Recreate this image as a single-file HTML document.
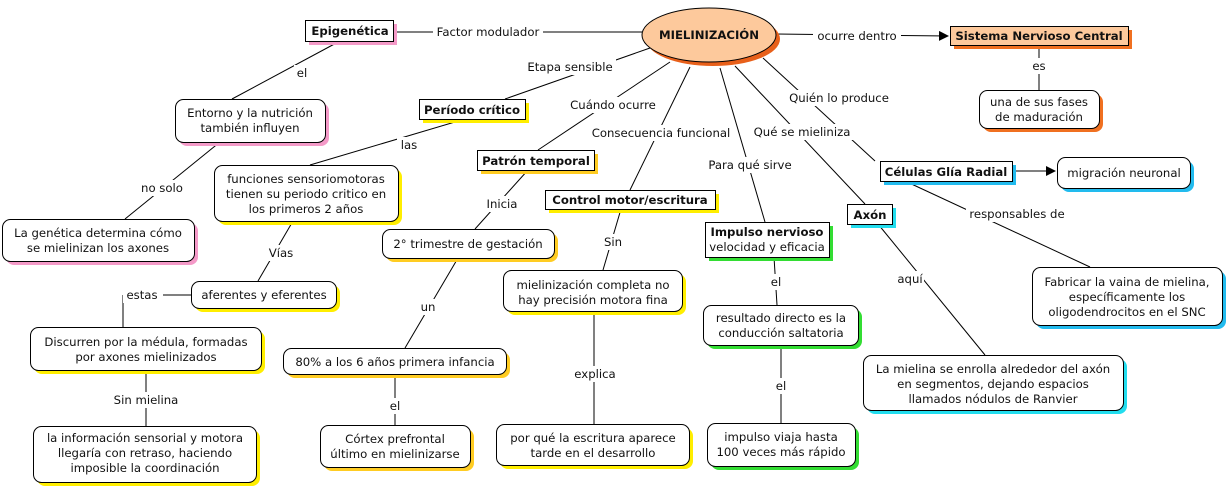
<!DOCTYPE html>
<html><head><meta charset="utf-8"><style>
html,body{margin:0;padding:0;background:#fff;width:1228px;height:489px;overflow:hidden}
svg text{font-family:"DejaVu Sans","Liberation Sans",sans-serif;font-size:11.7px;fill:#111}
.b{font-weight:bold}
</style></head><body>
<svg width="1228" height="489" viewBox="0 0 1228 489" xmlns="http://www.w3.org/2000/svg">
<defs><marker id="ar" markerWidth="10" markerHeight="10" refX="9" refY="5" orient="auto" markerUnits="userSpaceOnUse"><path d="M0,0 L10,5 L0,10 z" fill="#000"/></marker></defs>
<g stroke="#000" stroke-width="1" fill="none">
<line x1="393" y1="32" x2="642" y2="32"/>
<line x1="776" y1="34" x2="948" y2="36" marker-end="url(#ar)"/>
<line x1="1039" y1="45" x2="1039" y2="90"/>
<line x1="340" y1="41" x2="232" y2="99"/>
<line x1="220" y1="142" x2="125" y2="219"/>
<line x1="650" y1="48" x2="505" y2="99"/>
<line x1="670" y1="62" x2="538" y2="150"/>
<line x1="465" y1="119" x2="310" y2="165"/>
<line x1="690" y1="67" x2="630" y2="190"/>
<line x1="528" y1="170" x2="475" y2="229"/>
<line x1="720" y1="68" x2="765" y2="222"/>
<line x1="735" y1="66" x2="865" y2="204"/>
<line x1="763" y1="58" x2="875" y2="161"/>
<line x1="905" y1="181" x2="1090" y2="267"/>
<line x1="1012" y1="171" x2="1055" y2="171" marker-end="url(#ar)"/>
<line x1="621" y1="209" x2="603" y2="270"/>
<line x1="293" y1="221" x2="258" y2="281"/>
<line x1="774" y1="257" x2="777" y2="305"/>
<line x1="878" y1="224" x2="985" y2="355"/>
<line x1="191" y1="295" x2="123" y2="295"/>
<line x1="123" y1="295" x2="123" y2="327"/>
<line x1="146" y1="370" x2="146" y2="426"/>
<line x1="458" y1="258" x2="405" y2="348"/>
<line x1="395" y1="374" x2="395" y2="425"/>
<line x1="594" y1="311" x2="594" y2="424"/>
<line x1="781" y1="345" x2="781" y2="423"/>
</g>
<g fill="#fff">
<rect x="433" y="24" width="110" height="16"/><rect x="813" y="28" width="88" height="16"/>
<rect x="1030" y="58" width="18" height="16"/><rect x="294" y="65" width="16" height="16"/>
<rect x="138" y="180" width="48" height="16"/><rect x="524" y="59" width="92" height="16"/>
<rect x="566" y="97" width="94" height="16"/><rect x="397" y="137" width="24" height="16"/>
<rect x="588" y="125" width="146" height="16"/><rect x="484" y="196" width="36" height="16"/>
<rect x="704" y="157" width="92" height="16"/><rect x="750" y="124" width="104" height="16"/>
<rect x="785" y="90" width="108" height="16"/><rect x="966" y="206" width="102" height="16"/>
<rect x="602" y="234" width="22" height="16"/><rect x="267" y="245" width="28" height="16"/>
<rect x="767" y="274" width="18" height="16"/><rect x="898" y="271" width="26" height="16"/>
<rect x="123" y="287" width="40" height="16"/><rect x="108" y="392" width="76" height="16"/>
<rect x="417" y="299" width="22" height="16"/><rect x="387" y="398" width="16" height="16"/>
<rect x="572" y="366" width="46" height="16"/><rect x="773" y="378" width="16" height="16"/>
</g>
<g text-anchor="middle">
<text x="488" y="36">Factor modulador</text><text x="857" y="40">ocurre dentro</text>
<text x="1039" y="70">es</text><text x="302" y="77">el</text>
<text x="162" y="192">no solo</text><text x="570" y="71">Etapa sensible</text>
<text x="613" y="109">Cuándo ocurre</text><text x="409" y="149">las</text>
<text x="661" y="137">Consecuencia funcional</text><text x="502" y="208">Inicia</text>
<text x="750" y="169">Para qué sirve</text><text x="802" y="136">Qué se mieliniza</text>
<text x="839" y="102">Quién lo produce</text><text x="1017" y="218">responsables de</text>
<text x="613" y="246">Sin</text><text x="281" y="257">Vías</text>
<text x="776" y="286">el</text><text x="910" y="283">aquí</text>
<text x="142" y="299">estas</text><text x="146" y="404">Sin mielina</text>
<text x="428" y="311">un</text><text x="395" y="410">el</text>
<text x="595" y="378">explica</text><text x="781" y="390">el</text>
</g>
<g>
<ellipse cx="713" cy="39" rx="67" ry="27" fill="#e8601a"/>
<rect x="309" y="24" width="88" height="21" fill="#f49ac8"/>
<rect x="954" y="30" width="178" height="19" fill="#f07020"/>
<rect x="983" y="94" width="120" height="38" rx="8" fill="#f07020"/>
<rect x="179" y="103" width="150" height="43" rx="8" fill="#f49ac8"/>
<rect x="423" y="103" width="106" height="20" fill="#ffee00"/>
<rect x="481" y="154" width="117" height="20" fill="#ffcc22"/>
<rect x="218" y="169" width="184" height="56" rx="8" fill="#ffee00"/>
<rect x="6" y="223" width="192" height="42" rx="8" fill="#f49ac8"/>
<rect x="549" y="194" width="170" height="19" fill="#ffee00"/>
<rect x="709" y="226" width="124" height="35" fill="#33dd33"/>
<rect x="851" y="208" width="45" height="20" fill="#22ddee"/>
<rect x="884" y="165" width="132" height="20" fill="#22bbee"/>
<rect x="1061" y="161" width="133" height="31" rx="8" fill="#22bbee"/>
<rect x="1036" y="271" width="190" height="58" rx="8" fill="#22bbee"/>
<rect x="386" y="233" width="172" height="29" rx="8" fill="#ffcc22"/>
<rect x="195" y="285" width="145" height="27" rx="8" fill="#ffee00"/>
<rect x="507" y="274" width="179" height="41" rx="8" fill="#ffee00"/>
<rect x="707" y="309" width="155" height="40" rx="8" fill="#33dd33"/>
<rect x="34" y="331" width="231" height="43" rx="8" fill="#ffee00"/>
<rect x="287" y="352" width="223" height="26" rx="8" fill="#ffcc22"/>
<rect x="867" y="359" width="260" height="55" rx="8" fill="#22ddee"/>
<rect x="37" y="430" width="223" height="56" rx="8" fill="#ffee00"/>
<rect x="324" y="429" width="150" height="42" rx="8" fill="#ffcc22"/>
<rect x="500" y="428" width="193" height="41" rx="8" fill="#ffee00"/>
<rect x="711" y="427" width="148" height="43" rx="8" fill="#33dd33"/>
</g>
<g stroke="#000" stroke-width="1">
<ellipse cx="709" cy="35" rx="67" ry="27" fill="#fdc99c"/>
<rect x="305.5" y="20.5" width="88" height="21" fill="#fff"/>
<rect x="950.5" y="26.5" width="178" height="19" fill="#fdc99c"/>
<rect x="979.5" y="90.5" width="120" height="38" rx="8" fill="#fff"/>
<rect x="175.5" y="99.5" width="150" height="43" rx="8" fill="#fff"/>
<rect x="419.5" y="99.5" width="106" height="20" fill="#fff"/>
<rect x="477.5" y="150.5" width="117" height="20" fill="#fff"/>
<rect x="214.5" y="165.5" width="184" height="56" rx="8" fill="#fff"/>
<rect x="2.5" y="219.5" width="192" height="42" rx="8" fill="#fff"/>
<rect x="545.5" y="190.5" width="170" height="19" fill="#fff"/>
<rect x="705.5" y="222.5" width="124" height="35" fill="#fff"/>
<rect x="847.5" y="204.5" width="45" height="20" fill="#fff"/>
<rect x="880.5" y="161.5" width="132" height="20" fill="#fff"/>
<rect x="1057.5" y="157.5" width="133" height="31" rx="8" fill="#fff"/>
<rect x="1032.5" y="267.5" width="190" height="58" rx="8" fill="#fff"/>
<rect x="382.5" y="229.5" width="172" height="29" rx="8" fill="#fff"/>
<rect x="191.5" y="281.5" width="145" height="27" rx="8" fill="#fff"/>
<rect x="503.5" y="270.5" width="179" height="41" rx="8" fill="#fff"/>
<rect x="703.5" y="305.5" width="155" height="40" rx="8" fill="#fff"/>
<rect x="30.5" y="327.5" width="231" height="43" rx="8" fill="#fff"/>
<rect x="283.5" y="348.5" width="223" height="26" rx="8" fill="#fff"/>
<rect x="863.5" y="355.5" width="260" height="55" rx="8" fill="#fff"/>
<rect x="33.5" y="426.5" width="223" height="56" rx="8" fill="#fff"/>
<rect x="320.5" y="425.5" width="150" height="42" rx="8" fill="#fff"/>
<rect x="496.5" y="424.5" width="193" height="41" rx="8" fill="#fff"/>
<rect x="707.5" y="423.5" width="148" height="43" rx="8" fill="#fff"/>
</g>
<g text-anchor="middle">
<text class="b" x="709" y="39">MIELINIZACIÓN</text>
<text class="b" x="350" y="35">Epigenética</text>
<text class="b" x="1039" y="40">Sistema Nervioso Central</text>
<text x="1039" y="106">una de sus fases</text><text x="1039" y="121">de maduración</text>
<text x="250" y="117">Entorno y la nutrición</text><text x="250" y="132">también influyen</text>
<text class="b" x="472" y="114">Período crítico</text>
<text class="b" x="536" y="165">Patrón temporal</text>
<text x="306" y="183">funciones sensoriomotoras</text><text x="306" y="198">tienen su periodo critico en</text><text x="306" y="213">los primeros 2 años</text>
<text x="98" y="237">La genética determina cómo</text><text x="98" y="252">se mielinizan los axones</text>
<text class="b" x="630" y="204">Control motor/escritura</text>
<text class="b" x="767" y="236">Impulso nervioso</text><text x="767" y="251">velocidad y eficacia</text>
<text class="b" x="870" y="219">Axón</text>
<text class="b" x="946" y="176">Células Glía Radial</text>
<text x="1124" y="177">migración neuronal</text>
<text x="1127" y="286">Fabricar la vaina de mielina,</text><text x="1127" y="301">específicamente los</text><text x="1127" y="316">oligodendrocitos en el SNC</text>
<text x="468" y="248">2° trimestre de gestación</text>
<text x="264" y="299">aferentes y eferentes</text>
<text x="593" y="289">mielinización completa no</text><text x="593" y="304">hay precisión motora fina</text>
<text x="781" y="322">resultado directo es la</text><text x="781" y="337">conducción saltatoria</text>
<text x="146" y="346">Discurren por la médula, formadas</text><text x="146" y="361">por axones mielinizados</text>
<text x="395" y="366">80% a los 6 años primera infancia</text>
<text x="993" y="373">La mielina se enrolla alrededor del axón</text><text x="993" y="388">en segmentos, dejando espacios</text><text x="993" y="403">llamados nódulos de Ranvier</text>
<text x="145" y="442">la información sensorial y motora</text><text x="145" y="457">llegaría con retraso, haciendo</text><text x="145" y="472">imposible la coordinación</text>
<text x="395" y="443">Córtex prefrontal</text><text x="395" y="458">último en mielinizarse</text>
<text x="593" y="442">por qué la escritura aparece</text><text x="593" y="457">tarde en el desarrollo</text>
<text x="781" y="441">impulso viaja hasta</text><text x="781" y="456">100 veces más rápido</text>
</g>
</svg>
</body></html>
